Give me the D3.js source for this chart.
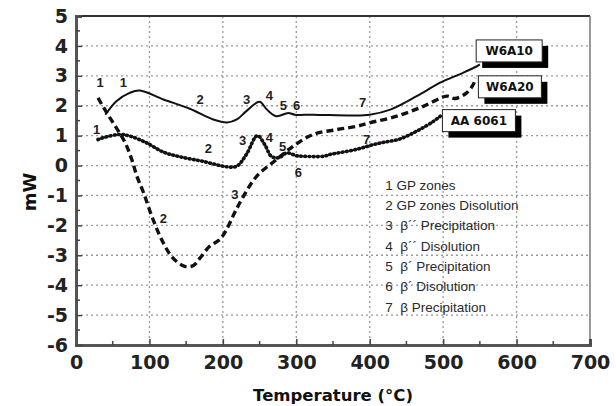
<!DOCTYPE html>
<html>
<head>
<meta charset="utf-8">
<script src="https://cdn.jsdelivr.net/npm/d3@7"></script>
<style>
  body { margin: 0; background: #fff; }
  svg { display: block; }
  .lbl { font-family: "Liberation Sans", Arial, sans-serif; font-weight: bold; font-size: 13px; fill: #222; }
  .leg { font-family: "Liberation Sans", Arial, sans-serif; font-size: 13.5px; fill: #2a2a2a; white-space: pre; }
  .tick text { font-family: "DejaVu Sans", sans-serif; font-weight: bold; font-size: 19px; fill: #222; }
</style>
</head>
<body>
<script>
// DSC curves (temperature in °C, heat flow in mW)
var w6a10T = [40, 55, 73, 87, 119, 155, 187, 206, 219, 232, 250, 260, 273, 289, 298, 323, 378, 400, 428, 464, 496, 527, 546, 550];
var w6a10V = [1.70, 2.15, 2.43, 2.51, 2.21, 1.90, 1.54, 1.44, 1.54, 1.82, 2.13, 1.87, 1.65, 1.76, 1.70, 1.70, 1.67, 1.70, 1.87, 2.32, 2.77, 3.10, 3.32, 3.38];

var w6a20T = [30, 42, 55, 67, 76, 83, 92, 105, 119, 132, 148, 160, 169, 182, 196, 205, 216, 228, 246, 273, 296, 323, 355, 382, 400, 437, 473, 505, 516, 532, 541, 544];
var w6a20V = [2.26, 1.76, 1.26, 0.76, 0.20, -0.36, -0.91, -1.81, -2.59, -3.09, -3.37, -3.34, -3.09, -2.70, -2.47, -2.14, -1.58, -1.03, -0.36, 0.20, 0.65, 1.04, 1.20, 1.31, 1.43, 1.65, 1.98, 2.32, 2.24, 2.43, 2.71, 2.93];

var aaT = [30, 37, 60, 74, 96, 119, 142, 173, 205, 219, 232, 247, 257, 266, 276, 287, 300, 310, 337, 346, 382, 405, 420, 440, 464, 487, 496];
var aaV = [0.87, 0.93, 1.04, 0.98, 0.76, 0.45, 0.29, 0.14, -0.04, -0.02, 0.37, 1.00, 0.70, 0.31, 0.26, 0.42, 0.33, 0.31, 0.31, 0.37, 0.54, 0.70, 0.78, 0.88, 1.15, 1.48, 1.65];

// sample tags (top-left corner in data units)
var tagNames = ["W6A10", "W6A20", "AA 6061"];
var tagT = [545, 548, 499];
var tagV = [4.2, 3.0, 1.87];
var tagW = [66, 63, 73];

// numbered event labels on the curves
var markText = ["1", "1", "1", "2", "3", "4", "5", "6", "7", "2", "3", "4", "5", "6", "7", "2", "3"];
var markT = [32.7, 64.4, 28.2, 168.9, 232.5, 263.2, 282.3, 300.6, 390.2, 180.2, 227, 263.2, 281.5, 302.7, 395.9, 118.9, 216.5];
var markV = [2.77, 2.77, 1.20, 2.21, 2.21, 2.34, 2.01, 2.01, 2.10, 0.57, 0.84, 0.95, 0.63, -0.22, 0.89, -1.75, -0.97];

var legendLines = ["1 GP zones", "2 GP zones Disolution", "3  \u03b2\u00b4\u00b4 Precipitation", "4  \u03b2\u00b4\u00b4 Disolution",
                   "5  \u03b2\u00b4 Precipitation", "6  \u03b2\u00b4 Disolution", "7  \u03b2 Precipitation"];

var xTicks = [0, 100, 200, 300, 400, 500, 600, 700];
var yTicks = [-6, -5, -4, -3, -2, -1, 0, 1, 2, 3, 4, 5];

(function(){

var width = 616, height = 406;
var mLeft = 76, mRight = 590, mTop = 16, mBottom = 345;

var svg = d3.select("body").append("svg")
    .attr("width", width)
    .attr("height", height);

var x = d3.scaleLinear().domain([0, 700]).range([mLeft, mRight]);
var y = d3.scaleLinear().domain([-6, 5]).range([mBottom, mTop]);

//dotted grid
svg.append("g").selectAll("line")
    .data(xTicks.slice(1, -1))
    .enter().append("line")
    .attr("x1", function(d){ return x(d); }).attr("x2", function(d){ return x(d); })
    .attr("y1", mTop).attr("y2", mBottom)
    .attr("stroke", "#9a9a9a").attr("stroke-width", 1.3).attr("stroke-dasharray", "2,3");
svg.append("g").selectAll("line")
    .data(yTicks.slice(1, -1))
    .enter().append("line")
    .attr("y1", function(d){ return y(d); }).attr("y2", function(d){ return y(d); })
    .attr("x1", mLeft).attr("x2", mRight)
    .attr("stroke", "#9a9a9a").attr("stroke-width", 1.3).attr("stroke-dasharray", "2,3");

//frame top / right
svg.append("line").attr("x1", mLeft).attr("x2", mRight).attr("y1", mTop).attr("y2", mTop)
    .attr("stroke", "#333").attr("stroke-width", 2);
svg.append("line").attr("x1", mRight).attr("x2", mRight).attr("y1", mTop).attr("y2", mBottom)
    .attr("stroke", "#777").attr("stroke-width", 1.5);

//axes with inward ticks
var xAxis = svg.append("g")
    .attr("transform", "translate(0," + mBottom + ")")
    .call(d3.axisBottom(x).tickValues(xTicks).tickSize(-6).tickPadding(20).tickFormat(d3.format("d")));
var yAxis = svg.append("g")
    .attr("transform", "translate(" + mLeft + ",0)")
    .call(d3.axisLeft(y).tickValues(yTicks).tickSize(-6).tickPadding(8)
        .tickFormat(function(d){ return d < 0 ? "-" + Math.abs(d) : d; }));

//minor ticks
svg.append("g").selectAll("line")
    .data(d3.range(50, 700, 100))
    .enter().append("line")
    .attr("x1", function(d){ return x(d); }).attr("x2", function(d){ return x(d); })
    .attr("y1", mBottom).attr("y2", mBottom - 4)
    .attr("stroke", "#444").attr("stroke-width", 1.5);
svg.append("g").selectAll("line")
    .data(d3.range(-5.5, 5, 1))
    .enter().append("line")
    .attr("y1", function(d){ return y(d); }).attr("y2", function(d){ return y(d); })
    .attr("x1", mLeft).attr("x2", mLeft + 4)
    .attr("stroke", "#444").attr("stroke-width", 1.5);

[xAxis, yAxis].forEach(function(g){
    g.select(".domain").attr("stroke", "#555").attr("stroke-width", 3);
    g.selectAll(".tick line").attr("stroke", "#444").attr("stroke-width", 1.5);
});
xAxis.selectAll(".tick text").attr("dy", "0.2em");

//curves
var line = d3.line()
    .x(function(d){ return x(d[0]); })
    .y(function(d){ return y(d[1]); })
    .curve(d3.curveCatmullRom.alpha(0.5));

function pairs(T, V){ return T.map(function(t, i){ return [t, V[i]]; }); }

svg.append("path").datum(pairs(aaT, aaV))
    .attr("d", line).attr("fill", "none")
    .attr("stroke", "#111").attr("stroke-width", 3.6)
    .attr("stroke-linecap", "round").attr("stroke-dasharray", "0.8,3.4");
svg.append("path").datum(pairs(w6a20T, w6a20V))
    .attr("d", line).attr("fill", "none")
    .attr("stroke", "#111").attr("stroke-width", 3.4)
    .attr("stroke-dasharray", "7,4");
svg.append("path").datum(pairs(w6a10T, w6a10V))
    .attr("d", line).attr("fill", "none")
    .attr("stroke", "#111").attr("stroke-width", 2);

//tags with drop shadow
var tags = svg.append("g").selectAll("g")
    .data(tagNames)
    .enter().append("g")
    .attr("transform", function(d, i){ return "translate(" + x(tagT[i]) + "," + y(tagV[i]) + ")"; });
tags.append("rect").attr("x", 6).attr("y", 6)
    .attr("width", function(d, i){ return tagW[i]; }).attr("height", 22).attr("fill", "#000");
tags.append("rect")
    .attr("width", function(d, i){ return tagW[i]; }).attr("height", 22)
    .attr("fill", "#fff").attr("stroke", "#222").attr("stroke-width", 1);
tags.append("text")
    .attr("x", function(d, i){ return tagW[i] / 2; }).attr("y", 15.5)
    .attr("text-anchor", "middle")
    .style("font-family", "'DejaVu Sans', sans-serif").style("font-weight", "bold").style("font-size", "12px")
    .style("fill", "#111")
    .text(function(d){ return d; });

//event numbers
svg.append("g").selectAll("text")
    .data(markText)
    .enter().append("text")
    .attr("class", "lbl")
    .attr("x", function(d, i){ return x(markT[i]); })
    .attr("y", function(d, i){ return y(markV[i]); })
    .attr("text-anchor", "middle").attr("dy", "0.36em")
    .text(function(d){ return d; });

//legend
svg.append("g").selectAll("text")
    .data(legendLines)
    .enter().append("text")
    .attr("class", "leg")
    .attr("x", x(421))
    .attr("y", function(d, i){ return y(-0.65) + i * 20.3; })
    .attr("dy", "0.36em")
    .text(function(d){ return d; });

//axis titles
svg.append("text")
    .attr("x", (mLeft + mRight) / 2).attr("y", 401)
    .attr("text-anchor", "middle")
    .style("font-family", "'DejaVu Sans', sans-serif").style("font-weight", "bold").style("font-size", "16.5px")
    .style("fill", "#111")
    .text("Temperature (\u00b0C)");
svg.append("text")
    .attr("transform", "translate(36," + 192 + ") rotate(-90)")
    .attr("text-anchor", "middle")
    .style("font-family", "'DejaVu Sans', sans-serif").style("font-weight", "bold").style("font-size", "18px")
    .style("fill", "#111")
    .text("mW");

})();
</script>
</body>
</html>
